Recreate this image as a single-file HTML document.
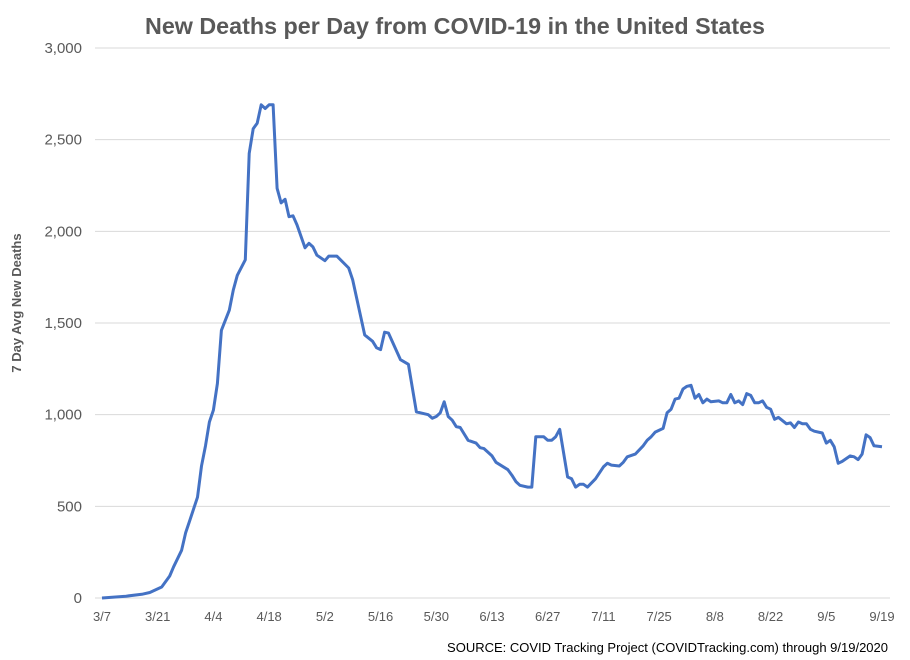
<!DOCTYPE html>
<html><head><meta charset="utf-8"><style>
html,body{margin:0;padding:0;background:#fff;}
svg{display:block;font-family:"Liberation Sans",sans-serif;}
</style></head><body>
<svg id="chart" width="910" height="660" viewBox="0 0 910 660">
<rect x="0" y="0" width="910" height="660" fill="#fff"/>
<text x="455" y="34" text-anchor="middle" font-size="23" font-weight="bold" fill="#595959" textLength="620" lengthAdjust="spacingAndGlyphs">New Deaths per Day from COVID-19 in the United States</text>
<text transform="translate(21,303) rotate(-90)" text-anchor="middle" font-size="13" font-weight="bold" fill="#595959">7 Day Avg New Deaths</text>
<g id="grid"></g>
<g id="yt"></g>
<g id="xt"></g>
<g id="series"></g>
<text x="888" y="652" text-anchor="end" font-size="13" fill="#000">SOURCE: COVID Tracking Project (COVIDTracking.com) through 9/19/2020</text>
</svg>
<script>
const dayIndex=[0,6,10,12,15,17,18,20,21,22,24,25,26,27,28,29,30,32,33,34,36,37,38,39,40,41,42,43,44,45,46,47,48,49,51,52,53,54,56,57,59,62,63,66,68,69,70,71,72,75,77,79,80,82,83,84,85,86,87,88,89,90,92,94,95,96,98,99,102,103,104,105,107,108,109,111,112,113,114,115,117,118,119,120,121,122,124,126,127,128,130,131,132,134,136,137,138,139,141,142,143,144,145,146,147,148,149,150,151,152,153,155,156,157,158,159,160,161,162,163,164,165,166,167,168,169,170,172,173,174,175,176,177,178,179,181,182,183,184,185,186,188,189,190,191,192,193,194,196];
const deaths=[0,10,20,30,60,120,170,260,355,420,550,720,830,960,1025,1170,1460,1570,1680,1760,1845,2425,2560,2590,2690,2670,2690,2690,2235,2155,2175,2080,2085,2035,1910,1935,1915,1870,1840,1865,1865,1800,1735,1435,1400,1365,1355,1450,1445,1300,1275,1015,1010,1000,980,990,1010,1070,990,970,935,930,860,845,820,815,775,740,700,670,635,615,605,605,880,880,860,860,880,920,660,650,605,620,620,605,650,715,735,725,720,740,770,785,830,860,880,905,925,1010,1030,1085,1090,1140,1155,1160,1090,1110,1065,1085,1070,1075,1065,1065,1110,1065,1075,1055,1115,1105,1065,1065,1075,1040,1030,975,985,950,955,930,960,950,950,920,910,900,845,860,825,735,745,775,770,755,785,890,875,830,825];
const yTicks=[0,500,1000,1500,2000,2500,3000];
const yTickLabels=["0","500","1,000","1,500","2,000","2,500","3,000"];
const xTickDays=[0,14,28,42,56,70,84,98,112,126,140,154,168,182,196];
const xTickLabels=["3/7","3/21","4/4","4/18","5/2","5/16","5/30","6/13","6/27","7/11","7/25","8/8","8/22","9/5","9/19"];

const NS="http://www.w3.org/2000/svg";
const X0=102,X1=882,Y0=598,Y1=48;
function xs(d){return X0+(X1-X0)*d/196;}
function ys(v){return Y0-(Y0-Y1)*v/3000;}
const grid=document.getElementById('grid'),yt=document.getElementById('yt'),xt=document.getElementById('xt'),series=document.getElementById('series');
yTicks.forEach((v,i)=>{
  const l=document.createElementNS(NS,'line');
  l.setAttribute('x1',95);l.setAttribute('x2',890);
  l.setAttribute('y1',ys(v));l.setAttribute('y2',ys(v));
  l.setAttribute('stroke','#d9d9d9');l.setAttribute('stroke-width','1');
  
  
  grid.appendChild(l);
  const t=document.createElementNS(NS,'text');
  t.setAttribute('x',82);t.setAttribute('y',ys(v)+5);
  t.setAttribute('text-anchor','end');t.setAttribute('font-size','15');t.setAttribute('fill','#595959');
  t.textContent=yTickLabels[i];
  
  
  yt.appendChild(t);
});
xTickDays.forEach((d,i)=>{
  const t=document.createElementNS(NS,'text');
  t.setAttribute('x',xs(d));t.setAttribute('y',621);
  t.setAttribute('text-anchor','middle');t.setAttribute('font-size','13');t.setAttribute('fill','#595959');
  t.textContent=xTickLabels[i];
  
  
  xt.appendChild(t);
});
const p=document.createElementNS(NS,'polyline');
p.setAttribute('points',dayIndex.map((d,i)=>xs(d).toFixed(1)+','+ys(deaths[i]).toFixed(1)).join(' '));
p.setAttribute('fill','none');p.setAttribute('stroke','#4472c4');p.setAttribute('stroke-width','3');
p.setAttribute('stroke-linejoin','round');


series.appendChild(p);
</script>
</body></html>
